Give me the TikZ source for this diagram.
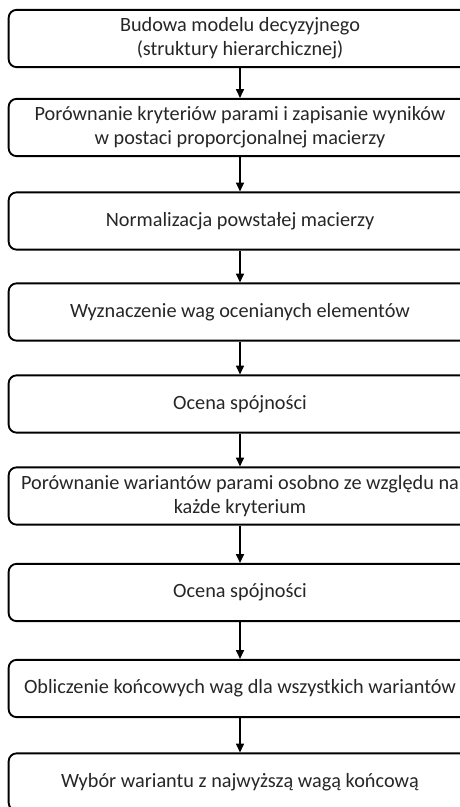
\documentclass[tikz,border=0pt]{standalone}
\usepackage{fontspec}
\setmainfont{Carlito}
\usetikzlibrary{arrows.meta}

\begin{document}
\begin{tikzpicture}[
    x=0.75pt, y=-0.75pt,
    >={Triangle[width=6pt, length=6.5pt]},
    stage/.style={rectangle, rounded corners=6pt, draw=black, line width=1.4pt,
        align=center, minimum width=347pt, minimum height=43pt, inner sep=2pt,
        font=\fontsize{15.2}{18}\selectfont, text=black!85},
    flow/.style={->, line width=0.8pt},
]

% ---- page frame (boxes run past the right and bottom edge) ----
\clip (0,0) rectangle (460,807);
\useasboundingbox (0,0) rectangle (460,807);

% ---- AHP steps, top to bottom ----
\node[stage] (model)  at (240,38.5)  {Budowa modelu decyzyjnego\\ (struktury hierarchicznej)};
\node[stage] (pairs)  at (240,127.5) {Porównanie kryteriów parami i zapisanie wyników\\ w postaci proporcjonalnej macierzy};
\node[stage] (norm)   at (240,221)   {Normalizacja powstałej macierzy};
\node[stage] (weights) at (240,312)  {Wyznaczenie wag ocenianych elementów};
\node[stage] (cons)   at (240,404)   {Ocena spójności};
\node[stage] (alts)   at (240,496)   {Porównanie wariantów parami osobno ze względu na\\ każde kryterium};
\node[stage] (consb)  at (240,592.5) {Ocena spójności};
\node[stage] (final)  at (240,688.5) {Obliczenie końcowych wag dla wszystkich wariantów};
\node[stage] (choice) at (240,782)   {Wybór wariantu z najwyższą wagą końcową};

% ---- arrows between steps ----
\draw[flow] (model)   -- (pairs);
\draw[flow] (pairs)   -- (norm);
\draw[flow] (norm)    -- (weights);
\draw[flow] (weights) -- (cons);
\draw[flow] (cons)    -- (alts);
\draw[flow] (alts)    -- (consb);
\draw[flow] (consb)   -- (final);
\draw[flow] (final)   -- (choice);

\end{tikzpicture}
\end{document}
